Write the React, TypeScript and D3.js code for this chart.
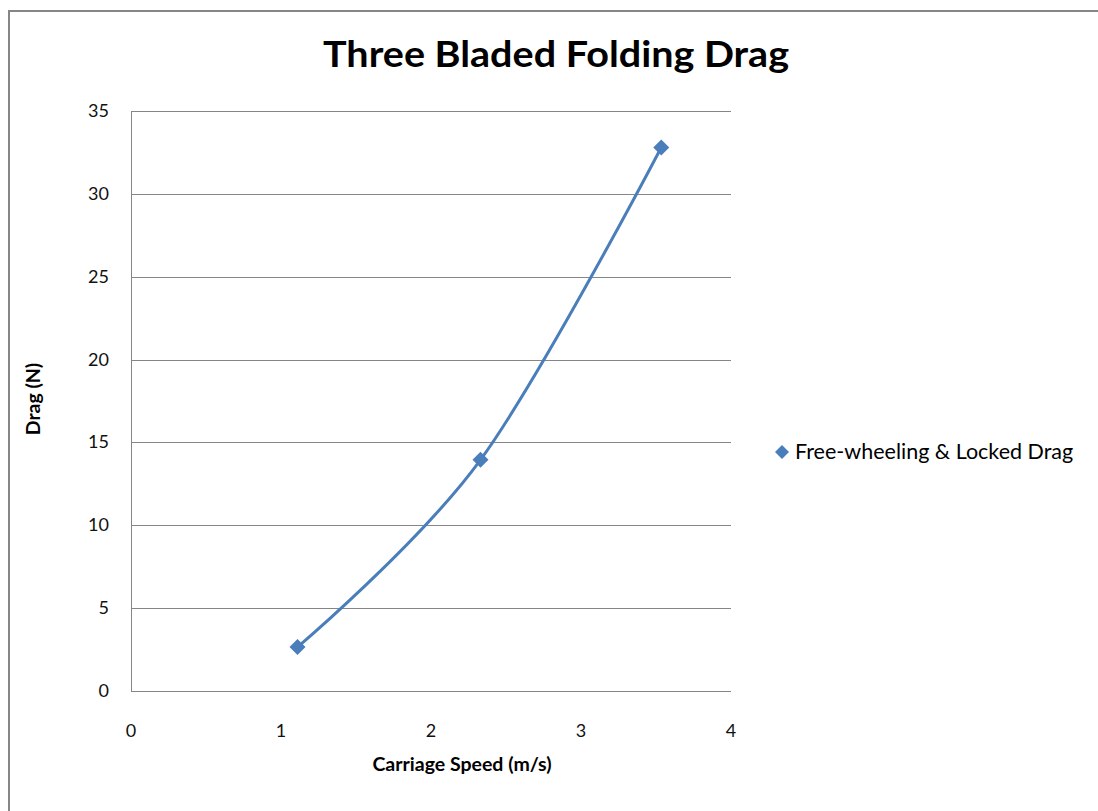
import React from "react";
import * as d3 from "d3";

const speeds = [1.11, 2.33, 3.535];
const drags = [2.65, 13.95, 32.8];
const xTicks = [0, 1, 2, 3, 4];
const yTicks = [0, 5, 10, 15, 20, 25, 30, 35];
const seriesName = "Free-wheeling & Locked Drag";
const titleText = "Three Bladed Folding Drag";
const xTitle = "Carriage Speed (m/s)";
const yTitle = "Drag (N)";

const W = 1098, H = 811;
const M = { left: 131, right: 731, top: 111, bottom: 691 };
const FONT = "Lato, 'Open Sans', sans-serif";
const BLUE = "#4A7EBB";

export default function App() {
  const x = d3.scaleLinear().domain([0, 4]).range([M.left, M.right]);
  const y = d3.scaleLinear().domain([0, 35]).range([M.bottom, M.top]);
  const pts: [number, number][] = speeds.map((s, i) => [x(s), y(drags[i])]);
  const line = d3.line().curve(d3.curveCardinal.tension(0))(pts) || "";
  const marker = (cx: number, cy: number, r = 7) =>
    `M${cx},${cy - r}L${cx + r},${cy}L${cx},${cy + r}L${cx - r},${cy}Z`;
  return (
    <svg width={W} height={H} style={{ position: "absolute", left: 0, top: 0 }}>
      <rect x={0} y={0} width={W} height={H} fill="#fff" />
      <path d={`M9,${H}L9,11L${W},11`} fill="none" stroke="#868686" strokeWidth={2} />
      <text x={556} y={67} textAnchor="middle" fontFamily={FONT} fontWeight="bold" fontSize={36} textLength={466} lengthAdjust="spacingAndGlyphs" fill="#000">{titleText}</text>
      {yTicks.map((t) => (
        <g key={"y" + t}>
          <line x1={M.left} x2={M.right} y1={Math.round(y(t)) + 0.5} y2={Math.round(y(t)) + 0.5} stroke="#868686" strokeWidth={1} />
          <text x={109} y={y(t) + 6} textAnchor="end" fontFamily={FONT} fontSize={18} fill="#111">{t}</text>
        </g>
      ))}
      <line x1={M.left + 0.5} x2={M.left + 0.5} y1={M.top} y2={M.bottom} stroke="#868686" />
      {xTicks.map((t) => (
        <text key={"x" + t} x={x(t)} y={737} textAnchor="middle" fontFamily={FONT} fontSize={18} fill="#111">{t}</text>
      ))}
      <text x={462} y={771} textAnchor="middle" fontFamily={FONT} fontWeight="bold" fontSize={19.5} fill="#000">{xTitle}</text>
      <text transform={`translate(40,${399}) rotate(-90)`} textAnchor="middle" fontFamily={FONT} fontWeight="bold" fontSize={19.5} fill="#000">{yTitle}</text>
      <path d={line} fill="none" stroke={BLUE} strokeWidth={3} />
      {pts.map(([cx, cy], i) => (
        <path key={i} d={marker(cx, cy, 8)} fill={BLUE} />
      ))}
      <path d={marker(782, 452, 7)} fill={BLUE} />
      <text x={795} y={459} fontFamily={FONT} fontSize={21.5} fill="#000">{seriesName}</text>
    </svg>
  );
}
